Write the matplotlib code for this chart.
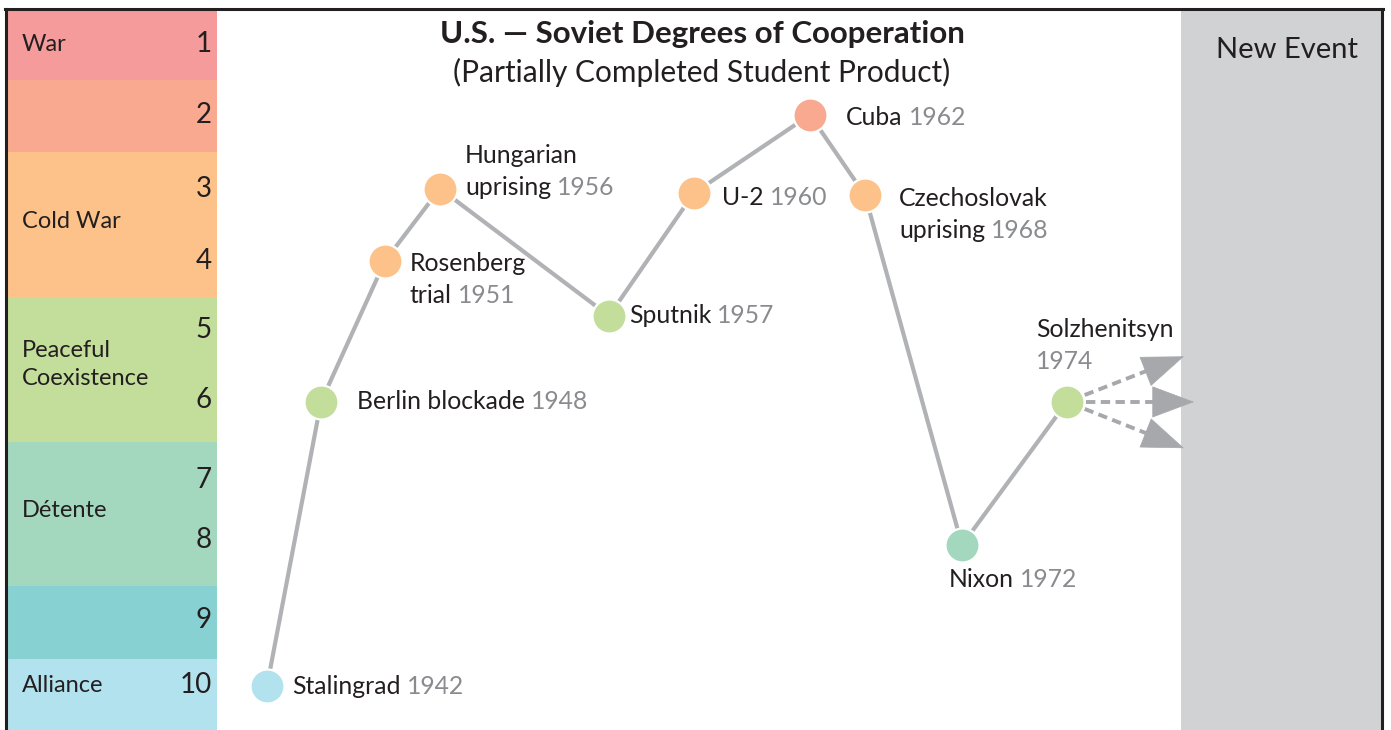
import numpy as np
import matplotlib.pyplot as plt

plt.rcParams['font.family'] = ['Lato', 'DejaVu Sans']

# Degrees of cooperation scale (1 = war, 10 = alliance)
levels = [1, 2, 3, 4, 5, 6, 7, 8, 9, 10]
level_label_y = [1, 1.98, 3.0, 4.0, 4.96, 5.92, 7.03, 7.86, 8.97, 9.87]
band_names = ['War', '', 'Cold War', 'Peaceful\nCoexistence', 'Détente', '', 'Alliance']
band_low = [1, 2, 3, 5, 7, 9, 10]
band_high = [1, 2, 4, 6, 8, 9, 10]
band_label_y = [1.0, 2, 3.45, 5.43, 7.45, 9, 9.87]
band_colors = ['#F59B9B', '#F8A98F', '#FDC28A', '#C3DE9B', '#A3D8BF', '#87D1D3', '#B3E2EF']

# Events along the timeline
events = ['Stalingrad', 'Berlin blockade', 'Rosenberg\ntrial', 'Hungarian\nuprising',
          'Sputnik', 'U-2', 'Cuba', 'Czechoslovak\nuprising', 'Nixon', 'Solzhenitsyn\n']
years = ['1942', '1948', '1951', '1956', '1957', '1960', '1962', '1968', '1972', '1974']
timeline_pos = [267, 321, 385, 440, 609, 694, 810, 865, 962, 1067]
cooperation = [9.88, 5.95, 4.0, 3.0, 4.76, 3.06, 1.98, 3.09, 7.93, 5.95]
# possible next steps from the last event
next_pos = [1184, 1194, 1184]
next_level = [5.32, 5.95, 6.59]

# label offsets from each dot (pixels)
label_dx = [25, 36, 25, 25, 20, 28, 36, 34, -13, -31]
label_dy = [0, 0, -3, 33, 0, -5, -3, -3, -34, 72]


def band_color(v):
    for lo, hi, c in zip(band_low, band_high, band_colors):
        if lo - 0.5 <= v < hi + 0.5:
            return c
    return band_colors[-1]


fig = plt.figure(figsize=(13.91, 7.30), dpi=100)
ax = fig.add_axes([0, 0, 1, 1])
ax.set_xlim(0, 1391)
ax.set_ylim(10.488, 0.391)
ax.axis('off')

LEFT, RIGHT_BAND, NEW_COL, FRAME_R = 7, 217, 1181, 1382
TOP = 0.516
DARK = '#231F20'

# left scale bands
for name, lo, hi, c, ly in zip(band_names, band_low, band_high, band_colors, band_label_y):
    ax.fill_between([LEFT, RIGHT_BAND], lo - 0.5, hi + 0.5, color=c, lw=0)
    if name:
        ax.text(22, ly, name, fontsize=17, color=DARK,
                va='center', ha='left', linespacing=1.4)
for lv, ly in zip(levels, level_label_y):
    ax.text(212, ly, str(lv), fontsize=20, color=DARK, va='center', ha='right')

# new event column
ax.fill_between([NEW_COL, FRAME_R], TOP, 10.7, color='#D1D2D4', lw=0)
ax.text((NEW_COL + FRAME_R) / 2 + 6, 1.08, 'New Event', fontsize=21,
        color=DARK, ha='center', va='center')

# frame
ax.plot([LEFT - 1, LEFT - 1], [TOP, 10.7], color=DARK, lw=2.2)
ax.plot([FRAME_R, FRAME_R], [TOP, 10.7], color=DARK, lw=2.2)
ax.plot([LEFT - 2, FRAME_R + 1], [TOP, TOP], color=DARK, lw=2.2)

# title
ax.text(702, 0.86, 'U.S. — Soviet Degrees of Cooperation', fontsize=22.5,
        fontweight='bold', color=DARK, ha='center', va='center')
ax.text(702, 1.39, '(Partially Completed Student Product)', fontsize=21.5,
        color=DARK, ha='center', va='center')

# connecting line and dots
ax.plot(timeline_pos, cooperation, color='#B1B2B5', lw=3, zorder=2,
        solid_capstyle='butt')
for x, v in zip(timeline_pos, cooperation):
    ax.plot(x, v, 'o', ms=24.5, color=band_color(v), mec='white', mew=1.6, zorder=3)

# dashed arrows to the new event column
ARROW = '#A7A8AB'
to_px = ax.transData.transform
to_data = ax.transData.inverted().transform
start = to_px((timeline_pos[-1], cooperation[-1]))
for nx, nv in zip(next_pos, next_level):
    tip = to_px((nx, nv))
    u = (tip - start) / np.hypot(*(tip - start))
    base = tip - u * 40
    a = to_data(start + u * 19)
    b = to_data(base + u * 2)
    ax.plot([a[0], b[0]], [a[1], b[1]], color=ARROW, lw=2.8,
            linestyle=(0, (2.4, 1.4)), solid_capstyle='butt', zorder=2)
    ax.annotate('', xy=(nx, nv), xytext=tuple(to_data(base - u * 0.5)),
                arrowprops=dict(arrowstyle='-|>,head_length=2.0,head_width=0.75',
                                mutation_scale=14.5, color=ARROW, lw=0.5,
                                shrinkA=0, shrinkB=0),
                zorder=2)

# event labels: name in dark, year in grey
LINE_H = 32
FS = 17.8
for x, v, name, yr, dx, dy in zip(timeline_pos, cooperation, events, years,
                                  label_dx, label_dy):
    lines = name.split('\n')
    for i, ln in enumerate(lines):
        last = i == len(lines) - 1
        if ln:
            t = ax.annotate(ln, xy=(x, v), xytext=(dx, dy - i * LINE_H),
                            textcoords='offset pixels', fontsize=FS,
                            color=DARK, va='center', ha='left')
            if last:
                ax.annotate(yr, xy=(1, 0), xycoords=t, xytext=(6, 0),
                            textcoords='offset pixels', fontsize=FS,
                            color='#8A8B8E', va='bottom', ha='left')
        elif last:
            ax.annotate(yr, xy=(x, v), xytext=(dx, dy - i * LINE_H),
                        textcoords='offset pixels', fontsize=FS,
                        color='#8A8B8E', va='center', ha='left')

fig.savefig('out.png', dpi=100)
